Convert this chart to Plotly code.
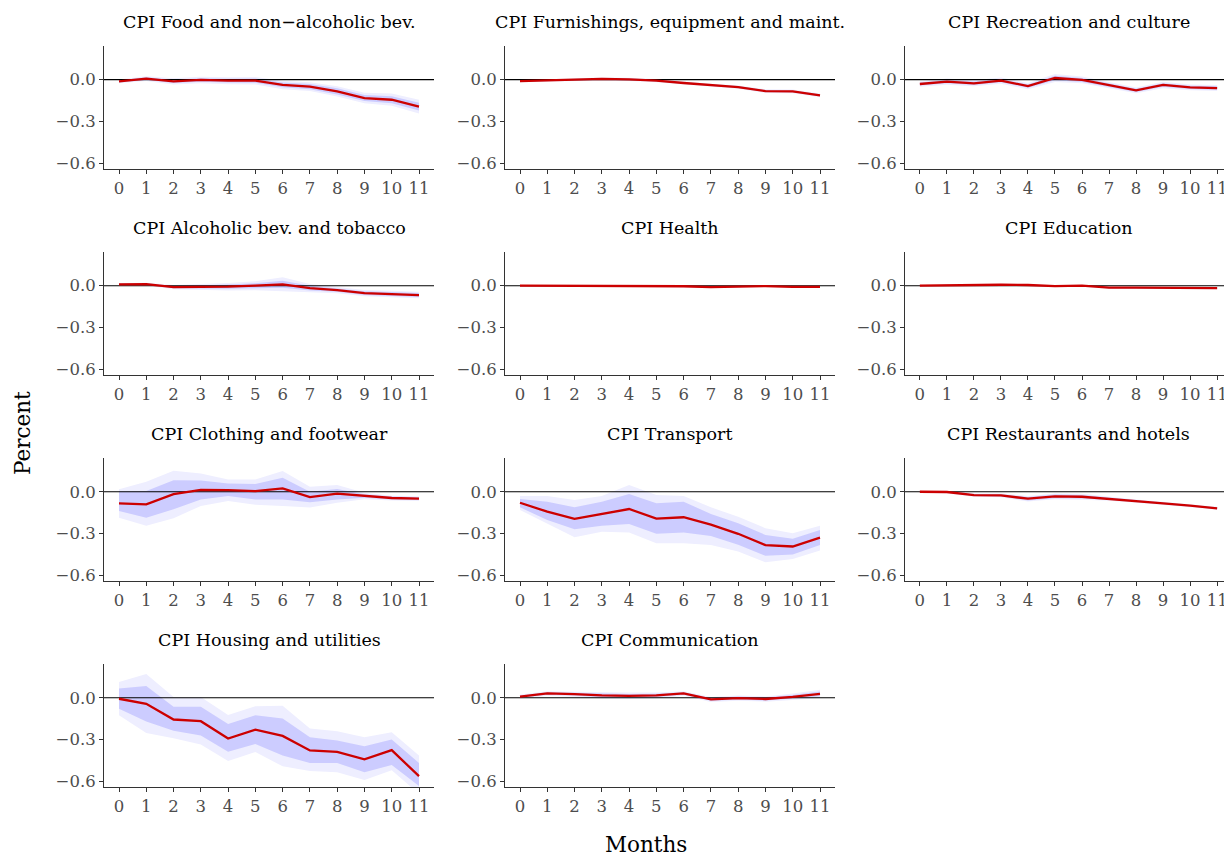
import plotly.graph_objects as go

months = list(range(12))

titles = ["CPI Food and non−alcoholic bev.", "CPI Furnishings, equipment and maint.",
          "CPI Recreation and culture", "CPI Alcoholic bev. and tobacco", "CPI Health",
          "CPI Education", "CPI Clothing and footwear", "CPI Transport",
          "CPI Restaurants and hotels", "CPI Housing and utilities", "CPI Communication"]

food_mid = [-0.012, 0.007, -0.012, -0.002, -0.007, -0.007, -0.038, -0.050, -0.084, -0.132, -0.144, -0.194]
food_in_hi = [-0.004, 0.017, 0.000, 0.011, 0.007, 0.008, -0.021, -0.031, -0.062, -0.110, -0.119, -0.166]
food_in_lo = [-0.020, -0.003, -0.024, -0.015, -0.021, -0.022, -0.055, -0.069, -0.106, -0.154, -0.169, -0.222]
food_out_hi = [0.002, 0.024, 0.010, 0.021, 0.018, 0.020, -0.008, -0.018, -0.048, -0.094, -0.100, -0.145]
food_out_lo = [-0.026, -0.010, -0.034, -0.025, -0.032, -0.034, -0.068, -0.082, -0.120, -0.170, -0.188, -0.243]

furn_mid = [-0.010, -0.005, -0.002, 0.005, 0.002, -0.007, -0.024, -0.041, -0.053, -0.082, -0.084, -0.113]
furn_in_hi = [-0.005, 0.001, 0.004, 0.011, 0.009, -0.001, -0.018, -0.035, -0.046, -0.075, -0.077, -0.105]
furn_in_lo = [-0.015, -0.011, -0.008, -0.001, -0.005, -0.013, -0.030, -0.047, -0.060, -0.089, -0.091, -0.121]
furn_out_hi = [-0.002, 0.005, 0.008, 0.016, 0.014, 0.004, -0.013, -0.030, -0.041, -0.069, -0.071, -0.099]
furn_out_lo = [-0.018, -0.015, -0.012, -0.006, -0.010, -0.018, -0.035, -0.052, -0.065, -0.095, -0.097, -0.127]

rec_mid = [-0.031, -0.014, -0.026, -0.007, -0.046, 0.012, -0.002, -0.041, -0.077, -0.038, -0.055, -0.060]
rec_in_hi = [-0.020, -0.002, -0.014, 0.005, -0.034, 0.028, 0.012, -0.029, -0.065, -0.025, -0.043, -0.048]
rec_in_lo = [-0.042, -0.026, -0.038, -0.019, -0.058, -0.004, -0.016, -0.053, -0.089, -0.051, -0.067, -0.072]
rec_out_hi = [-0.012, 0.008, -0.005, 0.015, -0.024, 0.040, 0.022, -0.019, -0.056, -0.015, -0.034, -0.039]
rec_out_lo = [-0.050, -0.036, -0.047, -0.029, -0.068, -0.016, -0.026, -0.063, -0.098, -0.061, -0.076, -0.081]

alc_mid = [0.010, 0.012, -0.010, -0.010, -0.007, 0.000, 0.010, -0.017, -0.031, -0.053, -0.060, -0.067]
alc_in_hi = [0.015, 0.018, -0.002, 0.002, 0.008, 0.018, 0.035, 0.000, -0.018, -0.040, -0.046, -0.053]
alc_in_lo = [0.005, 0.006, -0.018, -0.022, -0.022, -0.018, -0.015, -0.034, -0.044, -0.066, -0.074, -0.081]
alc_out_hi = [0.018, 0.022, 0.005, 0.012, 0.020, 0.032, 0.060, 0.012, -0.008, -0.031, -0.037, -0.044]
alc_out_lo = [0.002, 0.002, -0.025, -0.032, -0.034, -0.032, -0.040, -0.046, -0.054, -0.075, -0.083, -0.090]

hea_mid = [0.000, -0.001, 0.000, -0.001, -0.001, -0.003, -0.004, -0.010, -0.006, -0.003, -0.008, -0.008]
hea_in_hi = [0.003, 0.002, 0.003, 0.002, 0.002, 0.000, -0.001, -0.006, -0.003, 0.000, -0.005, -0.005]
hea_in_lo = [-0.003, -0.004, -0.003, -0.004, -0.004, -0.006, -0.007, -0.014, -0.009, -0.006, -0.011, -0.011]
hea_out_hi = [0.005, 0.005, 0.006, 0.005, 0.005, 0.003, 0.002, -0.003, 0.000, 0.003, -0.002, -0.002]
hea_out_lo = [-0.005, -0.007, -0.006, -0.007, -0.007, -0.009, -0.010, -0.017, -0.012, -0.009, -0.014, -0.014]

edu_mid = [0.000, 0.003, 0.006, 0.007, 0.005, -0.003, 0.000, -0.014, -0.014, -0.016, -0.018, -0.018]
edu_in_hi = [0.003, 0.007, 0.010, 0.011, 0.009, 0.001, 0.004, -0.010, -0.010, -0.012, -0.014, -0.014]
edu_in_lo = [-0.003, -0.001, 0.002, 0.003, 0.001, -0.007, -0.004, -0.018, -0.018, -0.020, -0.022, -0.022]
edu_out_hi = [0.005, 0.010, 0.013, 0.014, 0.012, 0.004, 0.007, -0.007, -0.007, -0.009, -0.011, -0.011]
edu_out_lo = [-0.005, -0.004, -0.001, 0.000, -0.002, -0.010, -0.007, -0.021, -0.021, -0.023, -0.025, -0.025]

clo_mid = [-0.083, -0.090, -0.017, 0.014, 0.012, 0.005, 0.024, -0.038, -0.014, -0.031, -0.045, -0.050]
clo_in_hi = [0.002, 0.005, 0.083, 0.081, 0.060, 0.055, 0.100, 0.000, 0.020, -0.018, -0.035, -0.040]
clo_in_lo = [-0.138, -0.186, -0.126, -0.055, -0.031, -0.055, -0.055, -0.076, -0.055, -0.044, -0.055, -0.060]
clo_out_hi = [0.017, 0.071, 0.150, 0.131, 0.088, 0.088, 0.148, 0.036, 0.048, -0.008, -0.028, -0.033]
clo_out_lo = [-0.186, -0.245, -0.190, -0.102, -0.067, -0.093, -0.102, -0.114, -0.079, -0.054, -0.062, -0.067]

tra_mid = [-0.079, -0.143, -0.195, -0.160, -0.124, -0.193, -0.183, -0.236, -0.302, -0.383, -0.393, -0.329]
tra_in_hi = [-0.052, -0.071, -0.112, -0.071, -0.017, -0.083, -0.071, -0.160, -0.226, -0.310, -0.338, -0.274]
tra_in_lo = [-0.112, -0.202, -0.269, -0.245, -0.231, -0.302, -0.293, -0.317, -0.381, -0.460, -0.450, -0.383]
tra_out_hi = [-0.031, -0.031, -0.060, -0.031, 0.048, -0.024, -0.031, -0.112, -0.179, -0.262, -0.298, -0.245]
tra_out_lo = [-0.131, -0.231, -0.326, -0.288, -0.293, -0.369, -0.369, -0.383, -0.429, -0.507, -0.483, -0.421]

res_mid = [0.000, -0.002, -0.024, -0.026, -0.050, -0.033, -0.036, -0.050, -0.067, -0.083, -0.100, -0.119]
res_in_hi = [0.003, 0.004, -0.017, -0.018, -0.038, -0.020, -0.023, -0.042, -0.060, -0.077, -0.094, -0.113]
res_in_lo = [-0.003, -0.008, -0.031, -0.034, -0.062, -0.046, -0.049, -0.058, -0.074, -0.089, -0.106, -0.125]
res_out_hi = [0.005, 0.008, -0.012, -0.012, -0.030, -0.012, -0.015, -0.036, -0.055, -0.072, -0.089, -0.108]
res_out_lo = [-0.005, -0.012, -0.036, -0.040, -0.070, -0.054, -0.057, -0.064, -0.079, -0.094, -0.111, -0.130]

hou_mid = [-0.007, -0.043, -0.156, -0.168, -0.293, -0.229, -0.274, -0.378, -0.388, -0.442, -0.376, -0.563]
hou_in_hi = [0.066, 0.085, -0.064, -0.064, -0.189, -0.125, -0.149, -0.284, -0.307, -0.348, -0.300, -0.468]
hou_in_lo = [-0.078, -0.170, -0.236, -0.270, -0.388, -0.331, -0.414, -0.468, -0.468, -0.534, -0.482, -0.634]
hou_out_hi = [0.113, 0.170, 0.005, 0.005, -0.123, -0.061, -0.057, -0.220, -0.241, -0.284, -0.248, -0.414]
hou_out_lo = [-0.125, -0.253, -0.291, -0.336, -0.454, -0.390, -0.492, -0.525, -0.534, -0.591, -0.520, -0.690]

com_mid = [0.009, 0.031, 0.026, 0.017, 0.014, 0.017, 0.031, -0.012, -0.002, -0.009, 0.007, 0.028]
com_in_hi = [0.017, 0.040, 0.036, 0.030, 0.027, 0.029, 0.040, -0.002, 0.009, 0.002, 0.020, 0.045]
com_in_lo = [0.001, 0.022, 0.016, 0.004, 0.001, 0.005, 0.022, -0.022, -0.013, -0.020, -0.006, 0.011]
com_out_hi = [0.023, 0.047, 0.044, 0.040, 0.037, 0.038, 0.047, 0.006, 0.017, 0.010, 0.030, 0.058]
com_out_lo = [-0.005, 0.015, 0.008, -0.006, -0.009, -0.004, 0.015, -0.030, -0.021, -0.028, -0.016, -0.002]

panels = [
    (food_mid, food_in_lo, food_in_hi, food_out_lo, food_out_hi),
    (furn_mid, furn_in_lo, furn_in_hi, furn_out_lo, furn_out_hi),
    (rec_mid, rec_in_lo, rec_in_hi, rec_out_lo, rec_out_hi),
    (alc_mid, alc_in_lo, alc_in_hi, alc_out_lo, alc_out_hi),
    (hea_mid, hea_in_lo, hea_in_hi, hea_out_lo, hea_out_hi),
    (edu_mid, edu_in_lo, edu_in_hi, edu_out_lo, edu_out_hi),
    (clo_mid, clo_in_lo, clo_in_hi, clo_out_lo, clo_out_hi),
    (tra_mid, tra_in_lo, tra_in_hi, tra_out_lo, tra_out_hi),
    (res_mid, res_in_lo, res_in_hi, res_out_lo, res_out_hi),
    (hou_mid, hou_in_lo, hou_in_hi, hou_out_lo, hou_out_hi),
    (com_mid, com_in_lo, com_in_hi, com_out_lo, com_out_hi),
]

y_ticks = [-0.6, -0.3, 0.0]

W, H = 1232, 856
OFF = 8  # default page body margin of the html page
X_RANGE = [-0.55, 11.55]
Y_RANGE = [-0.643, 0.243]
col_px = [(104, 434), (505, 835), (905, 1232)]
row_px = [(46, 170), (253, 377), (460, 584), (667, 791)]

FONT = "DejaVu Serif"
OUTER = "rgb(238,238,255)"
INNER = "rgb(204,204,255)"
RED = "#CC0000"
TICKFONT = dict(family=FONT, size=16.5, color="#4d4d4d")


def px_x(p):
    return (p - OFF) / W


def px_y(p):
    return 1 - (p - OFF) / H


fig = go.Figure()
annotations = []

for i, (mid, in_lo, in_hi, out_lo, out_hi) in enumerate(panels):
    r, c = divmod(i, 3)
    n = i + 1
    xa = "x" if n == 1 else f"x{n}"
    ya = "y" if n == 1 else f"y{n}"
    common = dict(xaxis=xa, yaxis=ya, showlegend=False, hoverinfo="skip")
    fig.add_trace(go.Scatter(x=months, y=out_lo, mode="lines", line=dict(width=0), **common))
    fig.add_trace(go.Scatter(x=months, y=out_hi, mode="lines", line=dict(width=0),
                             fill="tonexty", fillcolor=OUTER, **common))
    fig.add_trace(go.Scatter(x=months, y=in_lo, mode="lines", line=dict(width=0), **common))
    fig.add_trace(go.Scatter(x=months, y=in_hi, mode="lines", line=dict(width=0),
                             fill="tonexty", fillcolor=INNER, **common))
    fig.add_trace(go.Scatter(x=X_RANGE, y=[0, 0], mode="lines",
                             line=dict(color="black", width=1.1), **common))
    fig.add_trace(go.Scatter(x=months, y=mid, mode="lines",
                             line=dict(color=RED, width=2.3), **common))

    x0, x1 = col_px[c]
    y0, y1 = row_px[r]
    xdom = [px_x(x0), min(px_x(x1), 1.0)]
    ydom = [px_y(y1), px_y(y0)]
    axkey = "" if n == 1 else str(n)
    fig.layout["xaxis" + axkey] = dict(
        domain=xdom, anchor=ya, range=X_RANGE, tickvals=months, ticktext=[str(m) for m in months],
        showline=True, linecolor="#333333", linewidth=1, ticks="outside", ticklen=4,
        tickcolor="#333333", tickfont=TICKFONT, showgrid=False, zeroline=False, fixedrange=True)
    fig.layout["yaxis" + axkey] = dict(
        domain=ydom, anchor=xa, range=Y_RANGE, tickvals=y_ticks, tickformat=".1f",
        showline=True, linecolor="#333333", linewidth=1, ticks="outside", ticklen=4,
        tickcolor="#333333", tickfont=TICKFONT, showgrid=False, zeroline=False, fixedrange=True)
    annotations.append(dict(text=titles[i], x=px_x((x0 + x1) / 2), y=px_y(y0 - 24),
                            xref="paper", yref="paper", xanchor="center", yanchor="middle",
                            showarrow=False, font=dict(family=FONT, size=17.5, color="black")))

annotations.append(dict(text="Percent", x=px_x(22), y=px_y(435), xref="paper", yref="paper",
                        textangle=-90, showarrow=False, xanchor="center", yanchor="middle",
                        font=dict(family=FONT, size=21.5, color="black")))
annotations.append(dict(text="Months", x=px_x(646), y=px_y(848), xref="paper", yref="paper",
                        showarrow=False, xanchor="center", yanchor="middle",
                        font=dict(family=FONT, size=21.5, color="black")))

fig.update_layout(width=W, height=H, margin=dict(l=0, r=0, t=0, b=0),
                  plot_bgcolor="white", paper_bgcolor="white",
                  annotations=annotations, font=dict(family=FONT))

fig.write_html("out.html")
